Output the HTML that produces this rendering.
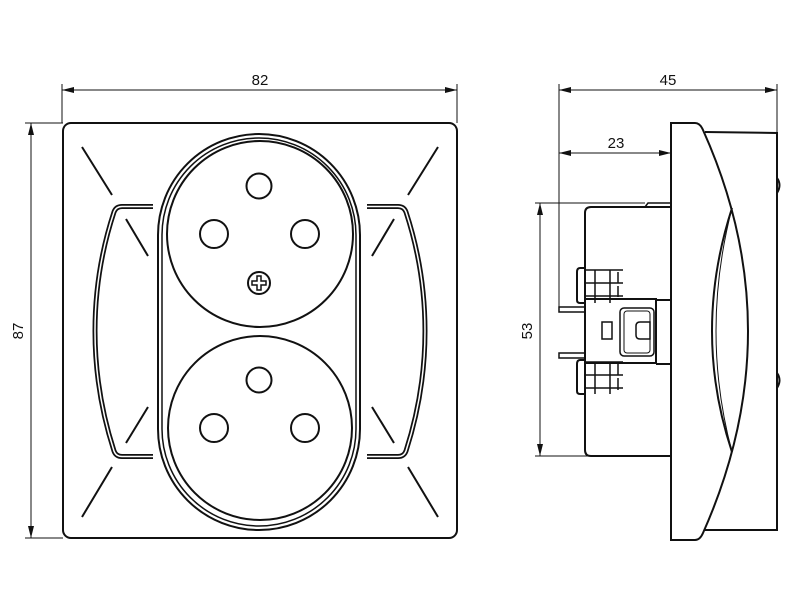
<!DOCTYPE html>
<html><head><meta charset="utf-8"><style>
html,body{margin:0;padding:0;background:#fff}
svg{display:block}
text{font-family:"Liberation Sans",sans-serif;font-size:15px;fill:#111}
</style></head><body>
<svg width="795" height="600" viewBox="0 0 795 600" xmlns="http://www.w3.org/2000/svg">
<defs>
<marker id="a" viewBox="0 0 12 6" refX="12" refY="3" markerWidth="12" markerHeight="6" orient="auto-start-reverse" markerUnits="userSpaceOnUse"><path d="M0,0 L12,3 L0,6 z" fill="#111"/></marker>
</defs>
<g stroke="#111" fill="none" stroke-width="1">
<!-- front dims -->
<line x1="62" y1="84" x2="62" y2="123"/><line x1="457" y1="84" x2="457" y2="123"/>
<line x1="62" y1="90" x2="457" y2="90" marker-start="url(#a)" marker-end="url(#a)"/>
<line x1="25" y1="123" x2="63" y2="123"/><line x1="25" y1="538" x2="63" y2="538"/>
<line x1="31" y1="123" x2="31" y2="538" marker-start="url(#a)" marker-end="url(#a)"/>
<!-- side dims -->
<line x1="559" y1="84" x2="559" y2="308"/><line x1="777" y1="84" x2="777" y2="133"/>
<line x1="559" y1="90" x2="777" y2="90" marker-start="url(#a)" marker-end="url(#a)"/>
<line x1="559" y1="153" x2="671" y2="153" marker-start="url(#a)" marker-end="url(#a)"/>
<line x1="535" y1="203" x2="645" y2="203"/><line x1="535" y1="456" x2="590" y2="456"/>
<line x1="540" y1="203" x2="540" y2="456" marker-start="url(#a)" marker-end="url(#a)"/>
</g>
<text x="260" y="85" text-anchor="middle">82</text>
<text x="668" y="85" text-anchor="middle">45</text>
<text x="616" y="148" text-anchor="middle">23</text>
<text transform="translate(23,331) rotate(-90)" text-anchor="middle">87</text>
<text transform="translate(532,331) rotate(-90)" text-anchor="middle">53</text>

<g stroke="#111" fill="none" stroke-width="2">
<rect x="63" y="123" width="394" height="415" rx="8"/>
<rect x="158" y="134" width="202" height="396" rx="101"/>
<rect x="162" y="138" width="194" height="388" rx="97" stroke-width="1.5"/>
<circle cx="260" cy="234" r="93"/>
<circle cx="260" cy="428" r="92"/>
<circle cx="259" cy="186" r="12.5"/><circle cx="214" cy="234" r="14"/><circle cx="305" cy="234" r="14"/>
<circle cx="259" cy="380" r="12.5"/><circle cx="214" cy="428" r="14"/><circle cx="305" cy="428" r="14"/>
<circle cx="259" cy="283" r="11"/>
<path d="M252,281 h5 v-5 h4 v5 h5 v4 h-5 v5 h-4 v-5 h-5 z" stroke-width="1.5"/>
<line x1="82" y1="147" x2="112" y2="195"/><line x1="126" y1="219" x2="148" y2="256"/>
<line x1="148" y1="407" x2="126" y2="443"/><line x1="112" y1="467" x2="82" y2="517"/>
<line x1="438" y1="147" x2="408" y2="195"/><line x1="394" y1="219" x2="372" y2="256"/>
<line x1="372" y1="407" x2="394" y2="443"/><line x1="408" y1="467" x2="438" y2="517"/>
</g>
<g fill="none" stroke-linejoin="round">
<path d="M153,206.5 H122 Q116,206.5 114,212 Q95,270 95,331 Q95,392 114,451 Q116,456.5 122,456.5 H153" stroke="#111" stroke-width="5"/>
<path d="M153,206.5 H122 Q116,206.5 114,212 Q95,270 95,331 Q95,392 114,451 Q116,456.5 122,456.5 H153" stroke="#fff" stroke-width="1.5"/>
<path d="M367,206.5 H398 Q404,206.5 406,212 Q425,270 425,331 Q425,392 406,451 Q404,456.5 398,456.5 H367" stroke="#111" stroke-width="5"/>
<path d="M367,206.5 H398 Q404,206.5 406,212 Q425,270 425,331 Q425,392 406,451 Q404,456.5 398,456.5 H367" stroke="#fff" stroke-width="1.5"/>
</g>

<!-- side view -->
<g stroke="#111" fill="none" stroke-width="2">
<path d="M705,132 L777,133 L777,530 L705,530"/>
<path d="M777,178 q5,7 0,15"/><path d="M777,373 q5,7 0,15"/>
<path d="M671,123 H695 Q700,123 703,130 Q748,230 748,331 Q748,432 703,533 Q700,540 695,540 H671 Z"/>
<path d="M732,208 Q712,270 712,331 Q712,392 732,452"/>
<path d="M732,208 Q716,270 716,331 Q716,392 732,452" stroke-width="1"/>
<path d="M671,207 H591 Q585,207 585,213 V450 Q585,456 591,456 H671"/>
<path d="M645,207 L648,203 H671" stroke-width="1.5"/>
<path d="M585,299 H656 V363 H585"/>
<path d="M656,300 H671 M656,364 H671" />
<rect x="620" y="308" width="34" height="48" rx="4" stroke-width="1.5"/>
<rect x="624" y="311" width="26" height="42" rx="3" stroke-width="1"/>
<rect x="602" y="322" width="10" height="17" stroke-width="1.5"/>
<path d="M640,322 H650 V339 H640 Q636,339 636,335 V326 Q636,322 640,322 Z" stroke-width="1.5"/>
<rect x="559" y="307" width="26" height="5" stroke-width="1.5"/>
<rect x="559" y="353" width="26" height="5" stroke-width="1.5"/>
<path d="M585,268 H580 Q577,268 577,272 V300 Q577,303 580,303 H585" />
<path d="M585,360 H580 Q577,360 577,364 V391 Q577,394 580,394 H585" />
<path d="M585,270 H623 M585,283 H623 M585,296 H623 M595,270 V303 M610,270 V303 M618,272 V283 M618,286 V297" stroke-width="1.5"/>
<path d="M585,362 H623 M585,375 H623 M585,388 H623 M595,362 V394 M610,362 V394 M618,364 V375 M618,378 V390" stroke-width="1.5"/>
</g>
</svg>
</body></html>
